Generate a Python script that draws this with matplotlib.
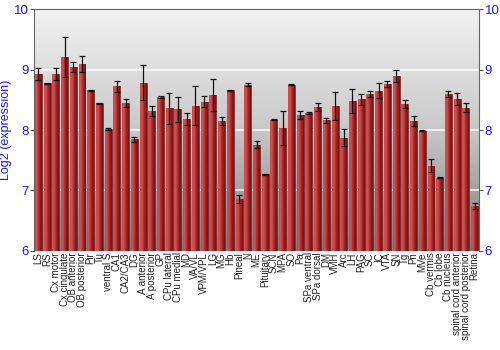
import numpy as np
import matplotlib
matplotlib.use("Agg")
import matplotlib.pyplot as plt
from matplotlib.colors import LinearSegmentedColormap

categories = ["LS", "RS", "Cx motor", "Cx cingulate", "OB anterior", "OB posterior", "Pir", "Tu",
              "ventral S", "CA1", "CA2/CA3", "DG", "A anterior", "A posterior", "GP", "CPu lateral",
              "CPu medial", "MD", "VA/VL", "VPM/VPL", "LG", "MG", "Hb", "Pineal", "N", "ME",
              "Pituitary", "SCN", "MPA", "SO", "Pa", "SPa ventral", "SPa dorsal", "DM", "VMH", "Arc",
              "LH", "PAG", "SC", "IC", "VTA", "SN", "Tg", "Pn", "MVe", "Cb vermis", "Cb lobe",
              "Cb nucleus", "spinal cord anterior", "spinal cord posterior", "Retina"]
values = [8.93, 8.77, 8.93, 9.21, 9.04, 9.09, 8.66, 8.44, 8.02, 8.72, 8.45, 7.85, 8.78, 8.31, 8.55,
          8.36, 8.34, 8.18, 8.40, 8.47, 8.58, 8.15, 8.66, 6.86, 8.75, 7.76, 7.27, 8.17, 8.03, 8.75,
          8.25, 8.28, 8.38, 8.16, 8.40, 7.87, 8.48, 8.51, 8.59, 8.65, 8.76, 8.89, 8.43, 8.15, 7.99,
          7.41, 7.21, 8.60, 8.51, 8.37, 6.74]
errors = [0.10, 0.01, 0.10, 0.33, 0.08, 0.13, 0.01, 0.01, 0.015, 0.09, 0.07, 0.04, 0.29, 0.08, 0.015,
          0.26, 0.20, 0.10, 0.32, 0.09, 0.26, 0.07, 0.01, 0.07, 0.03, 0.06, 0.01, 0.01, 0.28, 0.01,
          0.07, 0.02, 0.07, 0.04, 0.23, 0.14, 0.20, 0.09, 0.05, 0.12, 0.05, 0.10, 0.07, 0.09, 0.01,
          0.11, 0.01, 0.05, 0.10, 0.07, 0.05]
y_ticks = [6, 7, 8, 9, 10]
y_label = "Log2 (expression)"

plt.rcParams['font.family'] = ['Liberation Sans', 'DejaVu Sans']
fig = plt.figure(figsize=(5, 3.5), dpi=100)
ax = fig.add_axes([0.068, 0.283, 0.89, 0.691])

n = len(categories)
x = np.arange(n)

# background gradient (light at top, darker at bottom)
bg = np.linspace(0, 1, 256).reshape(-1, 1)
bg_cmap = LinearSegmentedColormap.from_list("bg", ["#f2f2f2", "#c8c8c8", "#7c7c7c"])
ax.imshow(bg, extent=[-0.5, n - 0.5, 6, 10], origin='upper', aspect='auto', cmap=bg_cmap,
          zorder=0, interpolation='bilinear')
for yt in [7, 8, 9]:
    ax.axhline(yt, color='white', lw=1.2, alpha=0.85, zorder=1)

bars = ax.bar(x, [v - 6 for v in values], bottom=6, width=0.8, color='#b33434',
              edgecolor='#7a1a1a', linewidth=0.5, zorder=2)
bar_cmap = LinearSegmentedColormap.from_list("bar", ["#c84848", "#d25555", "#b53030", "#8e1e1e", "#6e1414"])
grad = np.linspace(0, 1, 64).reshape(1, -1)
for b in bars:
    x0 = b.get_x(); w = b.get_width(); h = b.get_height(); y0 = b.get_y()
    im = ax.imshow(grad, extent=[x0, x0 + w, y0, y0 + h], aspect='auto', cmap=bar_cmap,
                   zorder=2.5, interpolation='bilinear')
    im.set_clip_path(b)
ax.set_xlim(-0.5, n - 0.5)
ax.set_ylim(6, 10)

ax.errorbar(x, values, yerr=errors, fmt='none', ecolor='#111111', elinewidth=0.9,
            capsize=2, capthick=0.9, zorder=3)

ax.set_xticks(x)
ax.set_xticklabels(categories, rotation=90, fontsize=7, color='#222222')
ax.tick_params(axis='x', length=0, pad=1)
ax.set_yticks(y_ticks)
ax.tick_params(axis='y', colors='#555555', labelcolor='#1a1aff', labelsize=9.5,
               left=True, right=True, labelleft=True, labelright=True, length=3,
               direction='out', pad=1)
ax.set_ylabel(y_label, color='#1a1aff', fontsize=9)
ax.yaxis.set_label_coords(-0.05, 0.5)
for s in ['top', 'left', 'right']:
    ax.spines[s].set_color('#666666')
    ax.spines[s].set_linewidth(0.8)
ax.spines['bottom'].set_visible(False)

fig.savefig("out.png", dpi=100)
